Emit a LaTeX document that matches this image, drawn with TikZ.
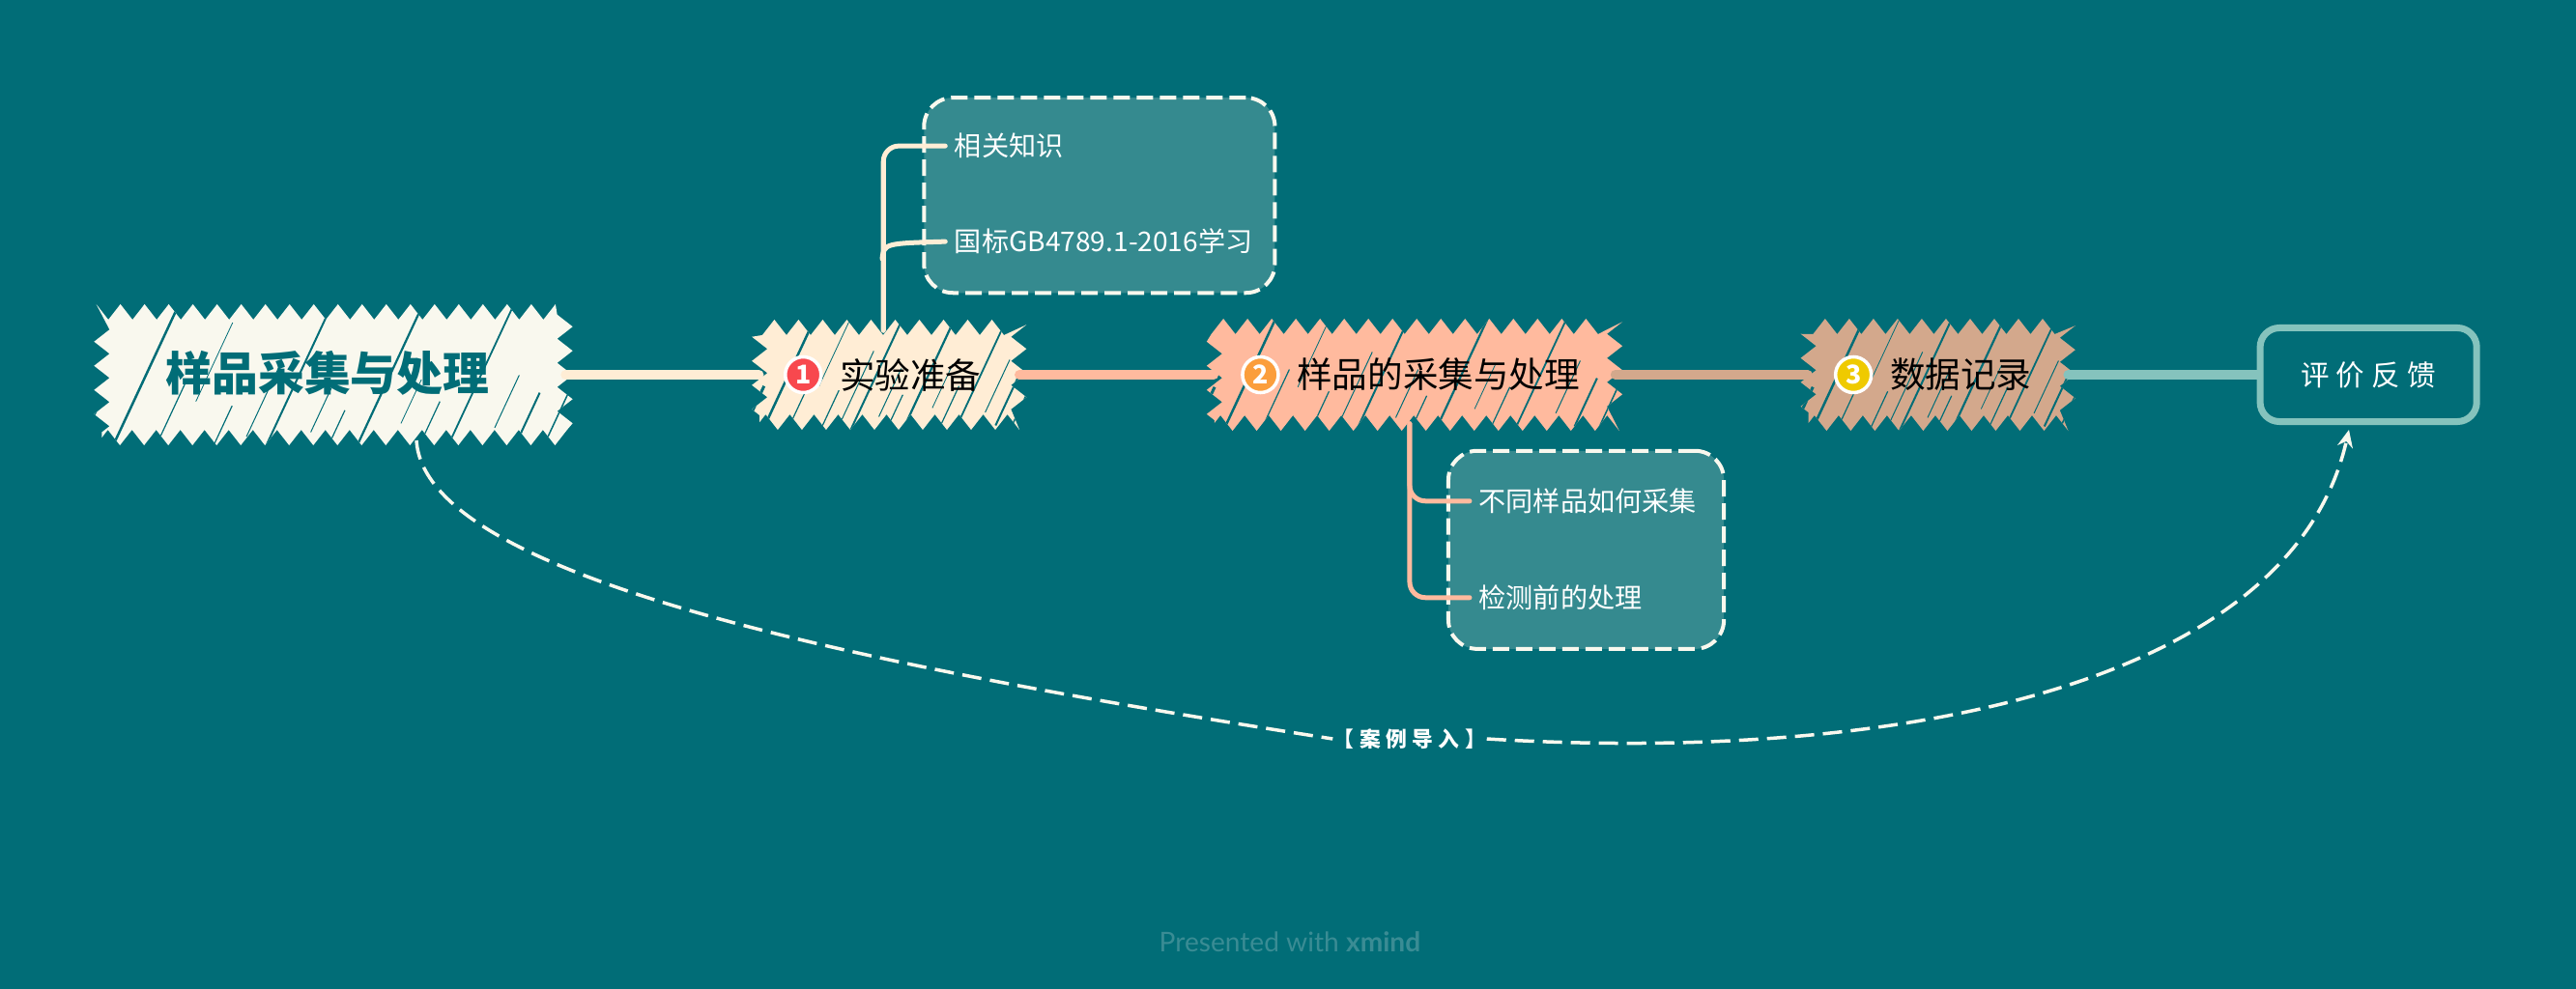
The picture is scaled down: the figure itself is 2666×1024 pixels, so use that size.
\documentclass[tikz,border=0pt]{standalone}
\usepackage{fontspec}
\setmainfont{Noto Sans CJK SC}
\newfontfamily\widefont[LetterSpace=25]{Noto Sans CJK SC}
\newfontfamily\footfont{Lato}
\usetikzlibrary{arrows.meta, positioning, calc, decorations.pathmorphing}
\definecolor{bgteal}{HTML}{016D77}
\definecolor{rootcream}{HTML}{F9F8EE}
\definecolor{prepcream}{HTML}{FFEDD5}
\definecolor{samplepeach}{HTML}{FFBA9E}
\definecolor{recordtan}{HTML}{D3A88C}
\definecolor{reviewmint}{HTML}{85C3BD}
\definecolor{noteteal}{HTML}{358A8F}
\definecolor{footteal}{HTML}{3A8C94}
\definecolor{markred}{HTML}{F8484E}
\definecolor{markorange}{HTML}{FB9E3C}
\definecolor{markyellow}{HTML}{EFCA00}
\tikzset{
  scribble/.style={rectangle, inner sep=0pt, decorate,
    decoration={zigzag, segment length=0.25cm, amplitude=0.08cm},
    path picture={
      \coordinate (sw) at (path picture bounding box.south west);
      \coordinate (se) at (path picture bounding box.south east);
      \foreach \fx/\st/\len/\wd in {-.03/0/0.5/0.03, .04/0.05/1.6/0.025, .13/0/0.7/0.012, .17/0.5/0.9/0.008,
          .25/0/0.45/0.012, .31/0.1/0.8/0.01, .36/0/1.6/0.02, .44/0.15/0.55/0.01, .49/0/0.4/0.012, .55/0/1.6/0.022,
          .62/0.25/0.5/0.008, .68/0/0.5/0.012, .74/0/1.6/0.018, .82/0.2/0.6/0.01, .88/0.05/0.55/0.02, .94/0/0.6/0.015}
        \draw[bgteal, line width=\wd cm] ($(sw)!\fx!(se)+(65:\st cm)$) -- ++(65:\len cm);
    }},
  steptext/.style={inner sep=0pt, text=black, font=\fontsize{10.4}{12}\selectfont},
  badge/.style={circle, draw=white, line width=0.035cm, minimum size=0.37cm, inner sep=0pt,
    text=white, font=\bfseries\fontsize{7.6}{8}\selectfont},
  linkline/.style={line width=0.1cm, line cap=round},
  notebox/.style={rectangle, rounded corners=0.3cm, fill=noteteal, draw=rootcream, line width=0.04cm,
    dash pattern=on 0.17cm off 0.07cm},
  topic/.style={anchor=west, inner xsep=0.09cm, inner ysep=0pt, text=white, font=\fontsize{8}{10}\selectfont},
  branch/.style={line width=0.05cm, rounded corners=0.16cm, line cap=round},
  relation/.style={draw=rootcream, line width=0.035cm, dash pattern=on 0.2cm off 0.09cm}
}
\begin{document}
\begin{tikzpicture}[x=0.01cm, y=-0.01cm]
    \fill[bgteal] (0,0) rectangle (2666,1024);

    % Hauptzweig
    \node (root) [scribble, fill=rootcream, minimum width=4.79cm, minimum height=1.3cm] at (345,388) {};
    \node (prep) [scribble, fill=prepcream, right=2.0cm of root, minimum width=2.68cm, minimum height=0.98cm] {};
    \node (sample) [scribble, fill=samplepeach, right=2.01cm of prep, minimum width=4.14cm, minimum height=1.0cm] {};
    \node (record) [scribble, fill=recordtan, right=1.99cm of sample, minimum width=2.68cm, minimum height=1.0cm] {};
    \node (review) [right=1.95cm of record, rectangle, rounded corners=0.2cm, draw=reviewmint, line width=0.07cm,
        minimum width=2.24cm, minimum height=0.97cm, text=white,
        font=\widefont\fontsize{8.4}{10}\selectfont] {评价反馈};

    \node (roottext) [text=bgteal, inner sep=0pt, font=\bfseries\fontsize{13.6}{16}\selectfont, xshift=-0.06cm, yshift=0.02cm] at (root) {样品采集与处理};
    \node (prepmark) [badge, fill=markred, right=0.255cm of prep.west] {1};
    \node (preptext) [steptext, right=0.17cm of prepmark] {实验准备};
    \node (samplemark) [badge, fill=markorange, right=0.28cm of sample.west] {2};
    \node (sampletext) [steptext, right=0.17cm of samplemark] {样品的采集与处理};
    \node (recordmark) [badge, fill=markyellow, right=0.27cm of record.west] {3};
    \node (recordtext) [steptext, right=0.17cm of recordmark] {数据记录};

    % Notizen
    \node (prepbox) [notebox, minimum width=3.63cm, minimum height=2.02cm, above right=0.33cm and 0.34cm of prep.north] {};
    \node (knowledge) [topic] at ($(prepbox.north west)+(24,52)$) {相关知识};
    \node (standard) [topic] at ($(prepbox.north west)+(24,151)$) {国标GB4789.1-2016学习};
    \node (samplebox) [notebox, minimum width=2.85cm, minimum height=2.05cm, below right=0.26cm and 0.33cm of sample.south] {};
    \node (howto) [topic] at ($(samplebox.north west)+(24,54)$) {不同样品如何采集};
    \node (pretreat) [topic] at ($(samplebox.north west)+(24,154)$) {检测前的处理};

    % Verbindungen
    \draw [linkline, prepcream] (root) -- (prep);
    \draw [linkline, samplepeach] (prep) -- (sample);
    \draw [linkline, recordtan] (sample) -- (record);
    \draw [linkline, reviewmint] (record) -- (review);

    \coordinate (prepstem) at ($(prep.north)+(-6,4)$);
    \coordinate (prepjoin) at (913,268);
    \coordinate (samplestem) at ($(sample.south)+(-5,0)$);
    \draw [branch, prepcream] (prepstem) |- (knowledge.west);
    \draw [branch, prepcream] (prepjoin) .. controls (915,252) .. (standard.west);
    \draw [branch, samplepeach] (samplestem) |- (howto.west);
    \draw [branch, samplepeach] (samplestem) |- (pretreat.west);

    % Beziehung
    \coordinate (relstart) at (431,456);
    \coordinate (relend) at (2431,445);
    \node (caselabel) [text=white, inner sep=0pt, font=\widefont\bfseries\fontsize{6.2}{7}\selectfont] at (1459,765) {【案例导入】};
    \draw [relation] (relstart) .. controls (440,600) and (900,690) .. (caselabel.west);
    \draw [relation, -{Stealth[length=0.18cm, width=0.16cm]}] (caselabel.east) .. controls (1950,790) and (2370,715) .. (relend);

    \node (footer) [text=footteal, inner sep=0pt, font=\footfont\fontsize{8}{10}\selectfont] at (1335,975) {Presented with \textbf{xmind}};
\end{tikzpicture}
\end{document}
